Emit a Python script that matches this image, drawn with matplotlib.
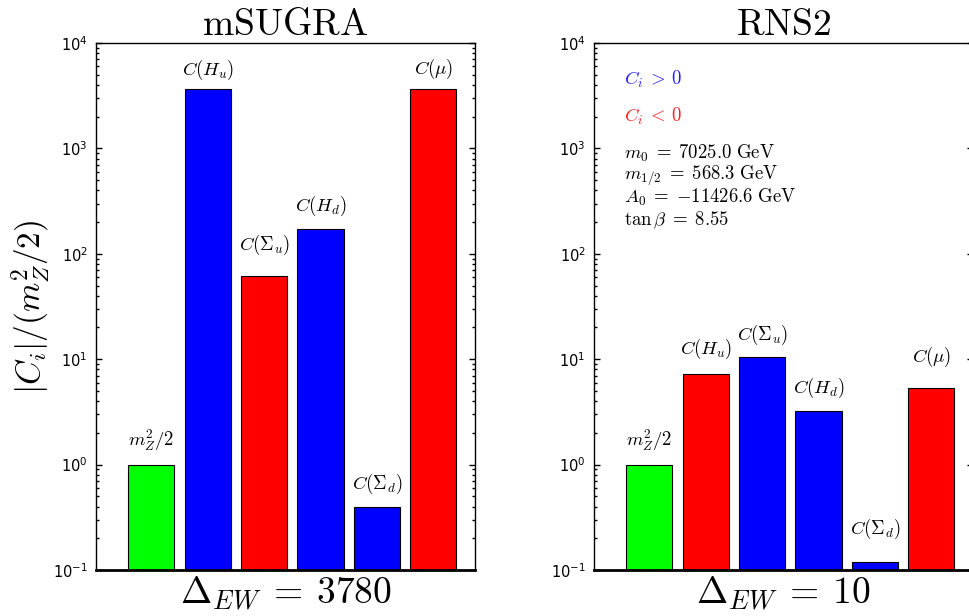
import matplotlib
matplotlib.use("Agg")
import matplotlib.pyplot as plt
from matplotlib.ticker import NullFormatter, FixedLocator, FixedFormatter

plt.rcParams['mathtext.fontset'] = 'cm'
plt.rcParams['font.family'] = ['Liberation Sans', 'DejaVu Sans']

# ---------------- data ----------------
bar_labels = [r'$m_Z^2/2$', r'$C(H_u)$', r'$C(\Sigma_u)$', r'$C(H_d)$', r'$C(\Sigma_d)$', r'$C(\mu)$']

msugra_values = [1.0, 3650, 61.5, 172, 0.40, 3700]
msugra_colors = ['#00ff00', '#0000ff', '#ff0000', '#0000ff', '#0000ff', '#ff0000']

rns2_values = [1.0, 7.25, 10.4, 3.23, 0.119, 5.38]
rns2_colors = ['#00ff00', '#ff0000', '#0000ff', '#0000ff', '#0000ff', '#ff0000']

titles = ['mSUGRA', 'RNS2']
delta_ew = [3780, 10]

ytick_vals = [1e-1, 1e0, 1e1, 1e2, 1e3, 1e4]
ytick_labels = [r'$10^{-1}$', r'$10^{0}$', r'$10^{1}$', r'$10^{2}$', r'$10^{3}$', r'$10^{4}$']

param_lines = [r'$m_0\;=\;7025.0\ \mathrm{GeV}$',
               r'$m_{1/2}\;=\;568.3\ \mathrm{GeV}$',
               r'$A_0\;=\;{-}11426.6\ \mathrm{GeV}$',
               r'$\tan\beta\;=\;8.55$']

# label offsets above bar tops (pixels)
msugra_offsets = [25, 19, 31, 23, 23, 20]
rns2_offsets = [25, 25, 22, 23, 33, 31]

# ---------------- figure ----------------
W, H = 969, 616
fig = plt.figure(figsize=(W / 100, H / 100), dpi=100)

ax_w = 379 / W
ax_h = 527 / H
ax_b = (H - 570) / H
axL = fig.add_axes([96 / W, ax_b, ax_w, ax_h])
axR = fig.add_axes([594 / W, ax_b, ax_w, ax_h])

positions = list(range(1, len(bar_labels) + 1))
minor_ticks = [m * d for d in ytick_vals[:-1] for m in range(2, 10)]

def draw_panel(ax, values, colors, offsets, title, dew):
    ax.bar(positions, values, width=0.82, color=colors, edgecolor='black',
           linewidth=0.8)
    ax.set_yscale('log')
    ax.set_ylim(1e-1, 1e4)
    ax.set_xlim(0.02, 6.74)
    ax.set_xticks([])
    ax.yaxis.set_major_locator(FixedLocator(ytick_vals))
    ax.yaxis.set_major_formatter(FixedFormatter(ytick_labels))
    ax.yaxis.set_minor_locator(FixedLocator(minor_ticks))
    ax.yaxis.set_minor_formatter(NullFormatter())
    ax.tick_params(axis='y', which='major', direction='in', left=True, right=True,
                   labelsize=10.5, pad=6, length=4.0, width=1.0, color='black')
    ax.tick_params(axis='y', which='minor', direction='in', left=True, right=True,
                   length=2.4, width=1.0, color='black')
    for t in ax.get_yticklabels():
        t.set_math_fontfamily('dejavusans')
        t.set_family('Liberation Sans')
    for s in ['left', 'right', 'top']:
        ax.spines[s].set_linewidth(1.0)
    ax.spines['bottom'].set_linewidth(2.0)
    for x, v, lab, off in zip(positions, values, bar_labels, offsets):
        ax.annotate(lab, xy=(x, v), xytext=(0, off * 0.72), textcoords='offset points',
                    ha='center', va='center', fontsize=13.5)
    ax.set_title(r'$\mathrm{%s}$' % title, fontsize=27, pad=4)
    ax.set_xlabel(r'$\Delta_{EW}\:=\:%d$' % dew, fontsize=27, labelpad=3)

draw_panel(axL, msugra_values, msugra_colors, msugra_offsets, titles[0], delta_ew[0])
draw_panel(axR, rns2_values, rns2_colors, rns2_offsets, titles[1], delta_ew[1])

axL.set_ylabel(r'$|C_i|/(m_Z^2/2)$', fontsize=24)
axL.yaxis.set_label_coords(-0.113, 0.5)

# legend-like text in right panel
axR.text(0.078, 0.930, r'$C_i\:>\:0$', color='#2020ff', fontsize=13.5,
         transform=axR.transAxes, ha='left', va='center')
axR.text(0.078, 0.860, r'$C_i\:<\:0$', color='#ff2020', fontsize=13.5,
         transform=axR.transAxes, ha='left', va='center')
y0 = 0.791
for i, line in enumerate(param_lines):
    axR.text(0.078, y0 - i * 0.0423, line, fontsize=13.5,
             transform=axR.transAxes, ha='left', va='center')

fig.savefig('out.png', dpi=100)
